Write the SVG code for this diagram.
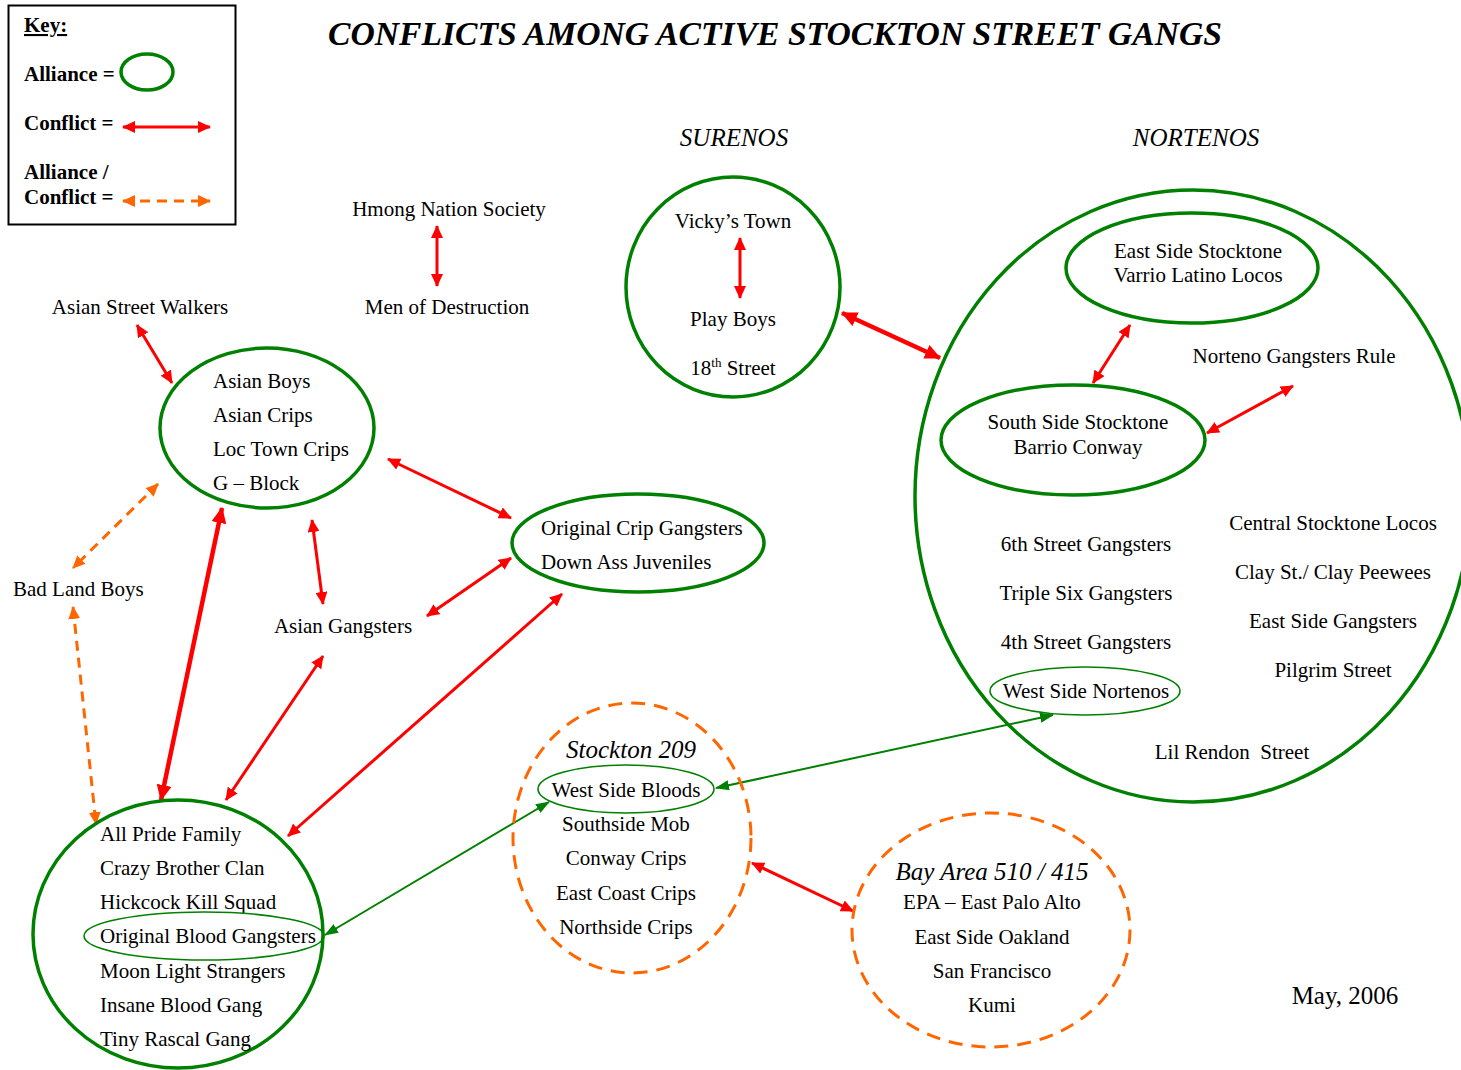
<svg xmlns="http://www.w3.org/2000/svg" width="1461" height="1070" viewBox="0 0 1461 1070">
<style>
text{font-family:"Liberation Serif","Times New Roman",serif;font-size:21px;fill:#000}
.c{text-anchor:middle}
.it{font-style:italic;font-size:25px}
.b{font-weight:bold}
.al{fill:none;stroke:#008000;stroke-width:3.5}
.alt{fill:none;stroke:#008000;stroke-width:1.6}
.ac{fill:none;stroke:#ff6600;stroke-width:3;stroke-dasharray:14 9}
.cf{stroke:#ff0000;stroke-width:3;fill:none;marker-start:url(#ar);marker-end:url(#ar)}
.cfb{stroke:#ff0000;stroke-width:4.5;fill:none;marker-start:url(#arb);marker-end:url(#arb)}
.ao{stroke:#ff6600;stroke-width:3;fill:none;stroke-dasharray:10 7;marker-start:url(#ao);marker-end:url(#ao)}
.gr{stroke:#008000;stroke-width:2;fill:none;marker-start:url(#ag);marker-end:url(#ag)}
</style>
<defs>
<marker id="ar" markerUnits="userSpaceOnUse" viewBox="0 0 13 12" refX="12" refY="6" markerWidth="13" markerHeight="12" orient="auto-start-reverse"><path d="M0,0 L13,6 L0,12 z" fill="#ff0000"/></marker>
<marker id="arb" markerUnits="userSpaceOnUse" viewBox="0 0 16 15" refX="15" refY="7.5" markerWidth="16" markerHeight="15" orient="auto-start-reverse"><path d="M0,0 L16,7.5 L0,15 z" fill="#ff0000"/></marker>
<marker id="ao" markerUnits="userSpaceOnUse" viewBox="0 0 13 12" refX="12" refY="6" markerWidth="13" markerHeight="12" orient="auto-start-reverse"><path d="M0,0 L13,6 L0,12 z" fill="#ff6600"/></marker>
<marker id="ag" markerUnits="userSpaceOnUse" viewBox="0 0 14 10" refX="13" refY="5" markerWidth="14" markerHeight="10" orient="auto-start-reverse"><path d="M0,0 L14,5 L0,10 z" fill="#008000"/></marker>
</defs>
<rect width="1461" height="1070" fill="#fff"/>

<g id="key">
<rect x="8.5" y="5.5" width="227" height="219" fill="none" stroke="#000" stroke-width="2"/>
<text x="24" y="32" class="b" text-decoration="underline">Key:</text>
<text x="24" y="81" class="b">Alliance =</text>
<ellipse cx="147" cy="72" rx="26" ry="18" class="al" stroke-width="3"/>
<text x="24" y="130" class="b">Conflict =</text>
<line x1="123" y1="127" x2="210" y2="127" class="cf"/>
<text x="24" y="179" class="b">Alliance /</text>
<text x="24" y="204" class="b">Conflict =</text>
<line x1="123" y1="201" x2="210" y2="201" class="ao"/>
</g>

<text id="title" x="775" y="45" class="c b" font-style="italic" textLength="894" lengthAdjust="spacingAndGlyphs" style="font-size:34px">CONFLICTS AMONG ACTIVE STOCKTON STREET GANGS</text>
<text id="surenos-label" x="734" y="146" class="c it">SURENOS</text>
<text id="nortenos-label" x="1196" y="146" class="c it">NORTENOS</text>

<g id="connectors">
<line x1="437" y1="226" x2="437" y2="286" class="cf"/>
<line x1="740" y1="238" x2="740" y2="298" class="cf"/>
<line x1="137" y1="325" x2="172" y2="383" class="cf"/>
<line x1="158" y1="484" x2="73" y2="568" class="ao"/>
<line x1="73" y1="607" x2="96" y2="824" class="ao"/>
<line x1="312" y1="520" x2="323" y2="604" class="cf"/>
<line x1="222" y1="508" x2="161" y2="800" class="cfb"/>
<line x1="388" y1="459" x2="511" y2="518" class="cf"/>
<line x1="511" y1="558" x2="427" y2="616" class="cf"/>
<line x1="323" y1="656" x2="226" y2="800" class="cf"/>
<line x1="562" y1="594" x2="288" y2="836" class="cf"/>
<line x1="842" y1="313" x2="940" y2="358" class="cfb"/>
<line x1="1130" y1="325" x2="1093" y2="383" class="cf"/>
<line x1="1293" y1="386" x2="1207" y2="433" class="cf"/>
<line x1="1053" y1="715" x2="716" y2="788" class="gr"/>
<line x1="549" y1="802" x2="325" y2="935" class="gr"/>
<line x1="752" y1="863" x2="853" y2="911" class="cf"/>
</g>

<g id="hmong">
<text x="449" y="216" class="c">Hmong Nation Society</text>
</g>
<g id="men-of-destruction">
<text x="447" y="314" class="c">Men of Destruction</text>
</g>

<g id="surenos">
<ellipse cx="733" cy="287" rx="107" ry="110" class="al" stroke-width="3"/>
<text x="733" y="228" class="c">Vicky’s Town</text>
<text x="733" y="326" class="c">Play Boys</text>
<text x="733" y="375" class="c">18<tspan font-size="13" dy="-8">th</tspan><tspan dy="8"> Street</tspan></text>
</g>

<g id="asian-street-walkers">
<text x="140" y="314" class="c">Asian Street Walkers</text>
</g>

<g id="asian-boys">
<ellipse cx="267" cy="428" rx="107" ry="80" class="al"/>
<text x="213" y="388">Asian Boys</text>
<text x="213" y="422">Asian Crips</text>
<text x="213" y="456">Loc Town Crips</text>
<text x="213" y="490">G – Block</text>
</g>

<g id="bad-land-boys">
<text x="13" y="596">Bad Land Boys</text>
</g>

<g id="asian-gangsters">
<text x="343" y="633" class="c">Asian Gangsters</text>
</g>

<g id="original-crip">
<ellipse cx="638" cy="543" rx="126" ry="49" class="al"/>
<text x="541" y="535">Original Crip Gangsters</text>
<text x="541" y="569">Down Ass Juveniles</text>
</g>

<g id="nortenos">
<ellipse cx="1193" cy="496" rx="278" ry="306" class="al" stroke-width="3"/>
<text x="1294" y="363" class="c">Norteno Gangsters Rule</text>
<text x="1086" y="551" class="c">6th Street Gangsters</text>
<text x="1086" y="600" class="c">Triple Six Gangsters</text>
<text x="1086" y="649" class="c">4th Street Gangsters</text>
<text x="1333" y="530" class="c">Central Stocktone Locos</text>
<text x="1333" y="579" class="c">Clay St./ Clay Peewees</text>
<text x="1333" y="628" class="c">East Side Gangsters</text>
<text x="1333" y="677" class="c">Pilgrim Street</text>
<text x="1232" y="759" class="c" xml:space="preserve">Lil Rendon  Street</text>
</g>

<g id="east-side-stocktone">
<ellipse cx="1192" cy="268" rx="126" ry="55" class="al"/>
<text x="1198" y="258" class="c">East Side Stocktone</text>
<text x="1198" y="282" class="c">Varrio Latino Locos</text>
</g>

<g id="south-side-stocktone">
<ellipse cx="1073" cy="440" rx="132" ry="55" class="al"/>
<text x="1078" y="429" class="c">South Side Stocktone</text>
<text x="1078" y="454" class="c">Barrio Conway</text>
</g>

<g id="west-side-nortenos">
<ellipse cx="1085" cy="691" rx="95" ry="24" class="alt"/>
<text x="1086" y="698" class="c">West Side Nortenos</text>
</g>

<g id="stockton-209">
<ellipse cx="632" cy="838" rx="119" ry="135" class="ac"/>
<text x="631" y="758" class="c it">Stockton 209</text>
<text x="626" y="831" class="c">Southside Mob</text>
<text x="626" y="865" class="c">Conway Crips</text>
<text x="626" y="900" class="c">East Coast Crips</text>
<text x="626" y="934" class="c">Northside Crips</text>
</g>

<g id="west-side-bloods">
<ellipse cx="626" cy="789" rx="88" ry="24" class="alt"/>
<text x="626" y="797" class="c">West Side Bloods</text>
</g>

<g id="bay-area">
<ellipse cx="991" cy="930" rx="139" ry="117" class="ac"/>
<text x="992" y="880" class="c it">Bay Area 510 / 415</text>
<text x="992" y="909" class="c">EPA – East Palo Alto</text>
<text x="992" y="944" class="c">East Side Oakland</text>
<text x="992" y="978" class="c">San Francisco</text>
<text x="992" y="1012" class="c">Kumi</text>
</g>

<g id="bloods-group">
<ellipse cx="178" cy="934" rx="145" ry="134" class="al"/>
<text x="100" y="841">All Pride Family</text>
<text x="100" y="875">Crazy Brother Clan</text>
<text x="100" y="909">Hickcock Kill Squad</text>
<text x="100" y="978">Moon Light Strangers</text>
<text x="100" y="1012">Insane Blood Gang</text>
<text x="100" y="1046">Tiny Rascal Gang</text>
</g>

<g id="original-blood-gangsters">
<ellipse cx="204" cy="936" rx="120" ry="24" class="alt"/>
<text x="100" y="943">Original Blood Gangsters</text>
</g>

<text id="date" x="1345" y="1004" class="c" style="font-size:25px">May, 2006</text>
</svg>
